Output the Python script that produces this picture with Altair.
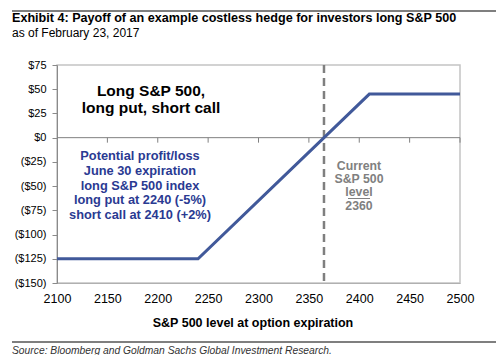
import altair as alt
import pandas as pd

# Data
index_levels = [2100, 2240, 2410, 2500]
payoff = [-125, -125, 45, 45]
current_level = 2365
y_ticks = [-150, -125, -100, -75, -50, -25, 0, 25, 50, 75]
x_ticks = [2100, 2150, 2200, 2250, 2300, 2350, 2400, 2450, 2500]
zero_ticks = [2150, 2200, 2250, 2300, 2350, 2400, 2450, 2500]

FONT = "Liberation Sans"
line_df = pd.DataFrame({"level": index_levels, "payoff": payoff})
one = pd.DataFrame({"a": [0]})

xscale = alt.Scale(domain=[2100, 2500], nice=False)
yscale = alt.Scale(domain=[-150, 75], nice=False)

xaxis = alt.Axis(
    values=x_ticks, title=None, tickSize=0, labelFontSize=12.5,
    labelPadding=9, domainColor="#b0b0b0", labelColor="#000",
    labelFont=FONT, grid=False, format="d", labelOverlap=False,
    labelFlush=False,
)
yaxis = alt.Axis(
    values=y_ticks, title=None, tickSize=5, labelPadding=6,
    labelFontSize=11, labelFont=FONT, labelColor="#000",
    domainColor="#8a8a8a", tickColor="#8a8a8a", grid=False,
    labelOverlap=False, labelFlush=False,
    labelExpr="datum.value < 0 ? '($' + abs(datum.value) + ')' : '$' + datum.value",
)

zero_rule = alt.Chart(one).mark_rule(color="#808080", strokeWidth=1).encode(
    y=alt.YDatum(0, scale=yscale, axis=yaxis)
)
ticks = alt.Chart(pd.DataFrame({"t": zero_ticks})).mark_rule(
    color="#808080", strokeWidth=1, y2Offset=5
).encode(
    x=alt.X("t:Q", scale=xscale, axis=xaxis),
    y=alt.YDatum(0, scale=yscale, axis=yaxis),
    y2=alt.datum(0),
)
vline = alt.Chart(pd.DataFrame({"c": [current_level]})).mark_rule(
    color="#7f7f7f", strokeWidth=2.5, strokeDash=[8, 5]
).encode(x=alt.X("c:Q", scale=xscale, axis=xaxis))

line = alt.Chart(line_df).mark_line(color="#41599a", strokeWidth=3).encode(
    x=alt.X("level:Q", scale=xscale, axis=xaxis),
    y=alt.Y("payoff:Q", scale=yscale, axis=yaxis),
)

def txt(text, x, y, size, color="#000", weight="normal", style="normal", align="left", lh=None):
    kw = dict(fontSize=size, color=color, fontWeight=weight, fontStyle=style,
              align=align, baseline="alphabetic", font=FONT)
    if lh is not None:
        kw["lineHeight"] = lh
    return alt.Chart(one).mark_text(text=text, **kw).encode(
        x=alt.value(x), y=alt.value(y)
    )

title = txt("Exhibit 4: Payoff of an example costless hedge for investors long S&P 500",
            -45, -43, 12.6, weight="bold")
subtitle = txt("as of February 23, 2017", -45, -28, 12)
hedge = txt(["Long S&P 500,", "long put, short call"], 94, 31, 15.5,
            weight="bold", align="center", lh=17)
blue = txt(["Potential profit/loss", "June 30 expiration", "long S&P 500 index",
            "long put at 2240 (-5%)", "short call at 2410 (+2%)"],
           83, 95, 12.8, color="#2a3a92", weight="bold", align="center", lh=14.8)
gray = txt(["Current", "S&P 500", "level", "2360"], 302, 105, 12.3,
           color="#808080", weight="bold", align="center", lh=13.2)
underline = alt.Chart(one).mark_rule(color="#808080", strokeWidth=1).encode(
    x=alt.value(291), x2=alt.value(313), y=alt.value(133.5)
)
xtitle = txt("S&P 500 level at option expiration", 196, 262, 12.5,
             weight="bold", align="center")
source = txt("Source: Bloomberg and Goldman Sachs Global Investment Research.",
             -45, 289, 10.3, color="#333", style="italic")

top_line = alt.Chart(one).mark_rule(color="#000", strokeWidth=1.2).encode(
    x=alt.value(-45), x2=alt.value(439), y=alt.value(-54)
)
bottom_line = alt.Chart(one).mark_rule(color="#000", strokeWidth=1.2).encode(
    x=alt.value(-45), x2=alt.value(439), y=alt.value(277)
)

chart = alt.layer(
    zero_rule, ticks, vline, line, title, subtitle, hedge, blue, gray, underline,
    xtitle, source, top_line, bottom_line,
).properties(
    width=403, height=218,
    autosize=alt.AutoSizeParams(type="none"),
    padding={"left": 49, "top": 57, "right": 36, "bottom": 72},
).configure_view(stroke="#c4c4c4", strokeWidth=1.5)

chart.save("out.html", embed_options={"renderer": "svg", "actions": False})
